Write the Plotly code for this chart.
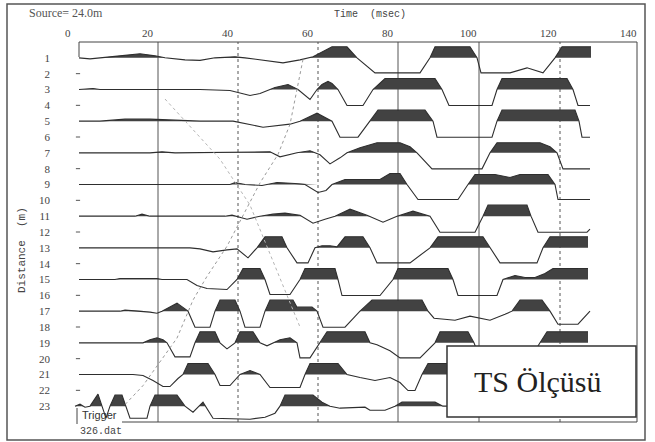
import plotly.graph_objects as go

# ---------------- data (time in msec, amplitude in arbitrary units, + = up) ----------------
ROW_LABELS = [str(r) for r in range(1, 24)]
TIME_TICKS = [0, 20, 40, 60, 80, 100, 120, 140]
GRID_MS = [22.5, 42.5, 62.5, 82.5, 102.75, 123.0]
GRID_DASH = ["solid", "dot", "dot", "solid", "solid", "dot"]

T_1 = [2.75, 5.5, 13, 18, 21.75, 24.25, 29.25, 33, 36.75, 41.75, 44.25, 48.5, 53.75, 58, 61.25, 66, 69.75, 72.25, 76.75, 88, 90.5, 91.75, 100.5, 102.25, 103.25, 110.5, 114.75, 118.75, 121.75, 123.5, 130.75]
A_1 = [0, -1, 2, 4, 2, 0, -2, -2.5, 0, 1, 0, -2, -5, -2, 1, 11, 11, 0, -15, -15, 0, 11, 11, 0, -15, -15, -10, -15, 0, 11, 11]

T_3 = [2.75, 6.25, 8, 33, 40.5, 45.5, 48, 51.75, 55, 57.5, 60.5, 62.25, 63.5, 65, 66, 67.5, 69.75, 73.75, 76.25, 79.25, 91.75, 93.5, 95.25, 106, 107.25, 108.5, 124.75, 126.25, 127.5, 130.5]
A_3 = [0, 1, 0, 0, -1, -6, -4, 2, 5, 0, -10, 0, 5, 8, 6, 0, -16, -16, 0, 11, 11, 0, -16, -16, 0, 11, 11, 0, -16, -16]

T_5 = [2.75, 8, 14.25, 20.5, 33, 41.25, 48.75, 55.5, 58, 62.25, 66, 68, 72.5, 75.5, 77.5, 89.25, 91.25, 92.25, 106, 107.25, 108.5, 126.75, 127.75, 128.5, 130.5]
A_5 = [0, 0, 2, 2, 0, 0, -6, -3, 0, 8, 0, -16, -16, 0, 11, 11, 0, -16, -16, 0, 11, 11, 0, -16, -16]

T_7 = [2.75, 20.5, 23.5, 26.75, 50.5, 53, 57.25, 60.5, 63, 65.5, 68, 69.75, 73, 77.25, 83, 85.5, 87.25, 91, 103.5, 105.5, 107.25, 118, 120.5, 122.25, 123.75, 130.5]
A_7 = [0, 0, 1, 0, 1, -4, 0, 2, -2, -11, -5, 0, 5, 10, 10, 6, 0, -16, -16, 0, 10, 10, 6, 0, -16, -16]

T_9 = [2.75, 40.5, 41.75, 44.25, 48.5, 52.25, 56.75, 59.25, 62.5, 64.5, 66, 69.25, 78, 80.5, 83, 84.75, 87.5, 97.5, 100, 101.75, 106.75, 110.5, 113, 120, 121.75, 122.5, 130.5]
A_9 = [0, 0, 2, 0, -1, 2, 1, 0, -8, -6, 0, 5, 5, 11, 11, 0, -15, -15, 0, 10, 10, 7, 10, 10, 0, -15, -15]

T_11 = [2.75, 16.75, 18.5, 20.5, 39.25, 41, 44.75, 48, 51.25, 54.25, 58, 61.25, 64.25, 66.75, 70.5, 74.75, 78.75, 82.25, 86.25, 90.5, 93, 101.75, 103.75, 105, 114.75, 115.75, 117.5, 129.75, 130.5]
A_11 = [0, 0, 2, 0, 0, 1, -3, 0, 2, 3, 1, -7, -3, 0, 7, 1, -6, 0, 5, 0, -16, -16, 0, 11, 11, 0, -16, -16, -13]

T_13 = [2.75, 30.5, 33, 36.25, 39.75, 42.25, 45, 47.25, 49.25, 53.5, 54.75, 57.25, 60, 61.75, 63.5, 65.5, 67.25, 69.25, 73.75, 75.5, 77.25, 85.5, 90.5, 92.5, 103.75, 105.5, 108, 117.25, 118.75, 120.5, 130]
A_13 = [0, 0, -1, -4, -2, -1, -10, 0, 11, 11, 0, -15, -15, 0, 2, 2, 1, 11, 11, 0, -15, -15, 0, 11, 11, 0, -15, -15, 0, 11, 11]

T_15 = [2.75, 11.75, 13, 22.25, 23.5, 29.75, 32.25, 34.75, 39.75, 41.25, 42.25, 43.75, 48, 49.25, 50.5, 55.5, 58, 59.25, 66.75, 67.5, 68.5, 78, 81.25, 82.5, 95, 96.25, 97.5, 107.25, 108.75, 111.75, 114.25, 116.75, 119.25, 121.25, 130]
A_15 = [0, 0, 1, 1, 0, 0, -6, -9, -10, -4, 0, 11, 11, 0, -15, -15, 0, 11, 11, 0, -16, -16, 0, 11, 11, 0, -16, -16, 0, 4, 2, 2, 6, 11, 11]

T_17 = [2.75, 13, 14.25, 18, 20.5, 22.25, 23.5, 27.25, 30, 31.75, 35.5, 36.75, 38, 41.75, 43, 44.25, 48, 49.25, 50.5, 56.25, 57.25, 61, 62.25, 63.75, 69.25, 73, 76, 88.5, 90, 91.5, 96.75, 100.5, 105.5, 109.25, 111, 113, 118.5, 120.5, 122.5, 127.5, 130.5]
A_17 = [0, 0, 1, 0, -1, -2, 0, 8, 0, -16, -16, 0, 11, 11, 0, -16, -16, 0, 11, 11, 4, 4, 0, -16, -16, 0, 11, 11, 0, -7, -9, -5, -9, -3, 0, 11, 11, 0, -13, -13, 0]

T_19 = [2.75, 18.75, 20.5, 22.25, 23.75, 24.75, 26.75, 30.5, 31.75, 33, 36.75, 38, 39.75, 41.75, 43, 46.25, 48, 49.75, 53, 55.5, 57.25, 58, 60.5, 63, 64.75, 74.25, 75.5, 77.25, 80.5, 83, 88, 91.75, 93, 100, 101.5, 103, 115.5, 118, 119.75, 130]
A_19 = [0, 0, 3, 5, 3, 0, -14, -14, 0, 11, 11, 0, -6, 0, 11, 11, 0, -3, 3, 5, 0, -15, -15, 0, 11, 11, 0, -2, -8, -15, -15, 0, 11, 11, 0, -16, -16, 0, 11, 11]

T_21 = [2.75, 16.25, 18.75, 21.25, 23.75, 25.5, 27.5, 28.75, 30, 35, 36.75, 38, 40.5, 43, 45.5, 48, 50.5, 58, 59.25, 60.5, 67.5, 69.75, 73, 76.75, 80.5, 83, 85, 86.75, 88.5, 90, 100.5, 102.5, 104.25, 113, 115.5, 118, 125.5, 128, 130.5]
A_21 = [0, 0, -1, -6, -12, -12, -4, 0, 11, 11, 0, -11, -11, 0, 4, 0, -13, -13, 0, 11, 11, 0, -3, -6, -3, -8, -16, -16, 0, 11, 11, 0, -16, -16, 0, 11, 11, 0, 0]

T_23 = [1.75, 3, 4.25, 5.5, 7.5, 8.5, 9.5, 10.5, 11.75, 13.5, 14.5, 15.5, 19.75, 20.5, 21.75, 27.25, 29.25, 31.25, 33.75, 36.25, 45.5, 49.25, 51.75, 53, 54.25, 61.25, 63.5, 65.5, 68, 74.25, 75.5, 79.25, 81.75, 83.5, 91.75, 93.75, 98, 130.5]
A_23 = [0, 2, -1, 0, 12, 0, -12, 0, 11, 11, 0, -12, -12, 0, 11, 11, 0, -6, 4, -12, -13, -11, -7, 0, 11, 11, 4, 0, -2, -1, -4, -4, 0, 4, 4, 0, 0, 0]

# first-break pick line (distance row, time msec)
PICK_ROW = [1.1, 5.2, 7.1, 8.9, 12.9, 14.8, 16.3, 18.7, 21.7, 22.9]
PICK_MS = [58.75, 55.5, 52.5, 48.0, 39.75, 34.75, 31.25, 27.25, 18.75, 14.25]
# secondary faint pick line
PICK2_ROW = [3.6, 7.4, 10.3, 14.6, 18.0]
PICK2_MS = [24.25, 38.0, 45.5, 52.5, 58.0]

TRACES = [(1, T_1, A_1), (3, T_3, A_3), (5, T_5, A_5), (7, T_7, A_7), (9, T_9, A_9),
          (11, T_11, A_11), (13, T_13, A_13), (15, T_15, A_15), (17, T_17, A_17),
          (19, T_19, A_19), (21, T_21, A_21), (23, T_23, A_23)]
EVEN_ROWS = list(range(2, 23, 2))

AMP_SCALE = 1 / 15.8   # rows per amplitude unit
LINE_C = "#2e2e2e"
FILL_C = "#424242"

fig = go.Figure()


def positive_part(t, a):
    xs, ys = [], []
    for i in range(len(t)):
        if i > 0 and a[i - 1] * a[i] < 0:
            tc = t[i - 1] + (t[i] - t[i - 1]) * (-a[i - 1]) / (a[i] - a[i - 1])
            xs.append(tc)
            ys.append(0.0)
        xs.append(t[i])
        ys.append(max(a[i], 0.0))
    return xs, ys


for row, t, a in TRACES:
    px_, pa = positive_part(t, a)
    fx = px_ + [px_[-1], px_[0]]
    fy = [row - v * AMP_SCALE for v in pa] + [row, row]
    fig.add_trace(go.Scatter(x=fx, y=fy, mode="lines", fill="toself",
                             fillcolor=FILL_C, line=dict(width=0),
                             hoverinfo="skip", showlegend=False))
    fig.add_trace(go.Scatter(x=t, y=[row - v * AMP_SCALE for v in a], mode="lines",
                             line=dict(color=LINE_C, width=1.1),
                             hoverinfo="skip", showlegend=False))

fig.add_trace(go.Scatter(x=[2.5] * len(EVEN_ROWS), y=EVEN_ROWS, mode="markers",
                         marker=dict(symbol="line-ew", size=3, line=dict(width=1, color="#555")),
                         hoverinfo="skip", showlegend=False))

fig.add_trace(go.Scatter(x=PICK_MS, y=PICK_ROW, mode="lines",
                         line=dict(color="#9a9a9a", width=1, dash="dot"),
                         hoverinfo="skip", showlegend=False))
fig.add_trace(go.Scatter(x=PICK2_MS, y=PICK2_ROW, mode="lines",
                         line=dict(color="#b5b5b5", width=1, dash="dot"),
                         hoverinfo="skip", showlegend=False))

shapes = []
for g, d in zip(GRID_MS, GRID_DASH):
    shapes.append(dict(type="line", xref="x", yref="paper", x0=g, x1=g, y0=0, y1=1,
                       line=dict(color="#555", width=1, dash=d), layer="below"))

# frame geometry (paper units)
L, R, T, B = 68, 640, 42, 422
W, H = R - L, B - T


def px(xp):
    return (xp - L) / W


def py(yp):
    return (B - yp) / H


shapes += [
    dict(type="rect", xref="paper", yref="paper", x0=px(7), x1=px(645), y0=py(440), y1=py(4),
         line=dict(color="#555", width=1.5)),
    dict(type="line", xref="paper", yref="paper", x0=px(79), x1=px(637), y0=py(42), y1=py(42),
         line=dict(color="#444", width=1)),
    dict(type="line", xref="paper", yref="paper", x0=px(79), x1=px(79), y0=py(42), y1=py(57),
         line=dict(color="#444", width=1)),
    dict(type="line", xref="paper", yref="paper", x0=px(637), x1=px(637), y0=py(42), y1=py(422),
         line=dict(color="#444", width=1)),
    dict(type="line", xref="paper", yref="paper", x0=px(122), x1=px(637), y0=py(422), y1=py(422),
         line=dict(color="#444", width=1)),
    dict(type="line", xref="paper", yref="paper", x0=px(77), x1=px(77), y0=py(408), y1=py(424),
         line=dict(color="#444", width=1)),
    dict(type="rect", xref="paper", yref="paper", x0=px(447), x1=px(636), y0=py(417), y1=py(346),
         line=dict(color="#333", width=1.5), fillcolor="white", layer="above"),
]

ann = [
    dict(text="Source= 24.0m", x=px(66), y=py(13), font=dict(family="Liberation Serif", size=12, color="#555")),
    dict(text="Time  (msec)", x=px(370), y=py(15), font=dict(family="Liberation Mono", size=10, color="#444")),
    dict(text="Distance  (m)", x=px(22), y=py(250), textangle=-90,
         font=dict(family="Liberation Mono", size=11, color="#444")),
    dict(text="Trigger", x=px(99), y=py(415), font=dict(family="Liberation Sans", size=11, color="#333")),
    dict(text="326.dat", x=px(101), y=py(431), font=dict(family="Liberation Mono", size=10, color="#444")),
    dict(text="TS Ölçüsü", x=px(538), y=py(381), font=dict(family="Liberation Serif", size=30, color="#222")),
]
for a_ in ann:
    a_.update(xref="paper", yref="paper", showarrow=False, xanchor="center", yanchor="middle")

# time tick labels placed above the plot box
for v in TIME_TICKS:
    ann.append(dict(text=str(v), x=v, xref="x", y=py(33), yref="paper", showarrow=False,
                    xanchor="center", yanchor="middle",
                    font=dict(family="Liberation Serif", size=11, color="#444")))

fig.update_layout(
    width=655, height=442,
    margin=dict(l=L, r=655 - R, t=T, b=442 - B, autoexpand=False),
    paper_bgcolor="white", plot_bgcolor="white",
    showlegend=False,
    shapes=shapes, annotations=ann,
    xaxis=dict(range=[0, 143], showticklabels=False, automargin=False,
               showgrid=False, zeroline=False, showline=False, ticks="", fixedrange=True),
    yaxis=dict(range=[24.0, 0.0], tickvals=list(range(1, 24)), ticktext=ROW_LABELS,
               showgrid=False, zeroline=False, showline=False, ticks="", automargin=False,
               ticklabelstandoff=17,
               tickfont=dict(family="Liberation Serif", size=11, color="#444"), fixedrange=True),
)

fig.write_html("out.html", config={"staticPlot": True},
               post_script="document.body.style.margin='0px';document.body.style.overflow='hidden';")
